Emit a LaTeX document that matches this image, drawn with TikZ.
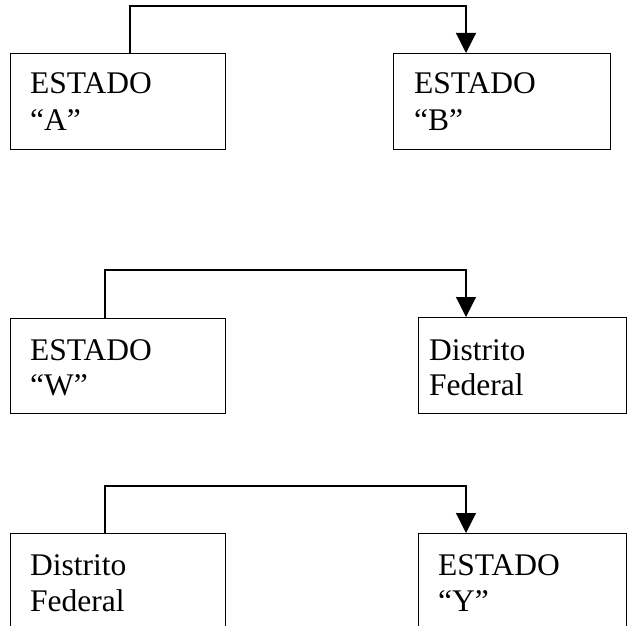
\documentclass[tikz,border=0pt]{standalone}
\usepackage{fontspec}
\setmainfont{Liberation Serif}
\usetikzlibrary{arrows.meta}
\begin{document}
\begin{tikzpicture}[x=1pt,y=-1pt,
  box/.style={draw=black, line width=1.1pt, rectangle, inner sep=0pt, anchor=north west},
  lbl/.style={font=\fontsize{31.5}{37}\selectfont, inner sep=0pt, anchor=base west},
  conn/.style={draw=black, line width=1.1pt, -{Triangle[width=20pt,length=20pt]}}]
\useasboundingbox[fill=white] (0,0) rectangle (627,626);
% Row 1
\node[box, minimum width=215.4pt, minimum height=96pt] (A) at (9.6,53) {};
\node[box, minimum width=217pt, minimum height=96pt] (B) at (393,53) {};
\node[lbl] (tA1) at (30,93) {ESTADO};
\node[lbl] (tA2) at (30,130) {“A”};
\node[lbl] (tB1) at (414,93) {ESTADO};
\node[lbl] (tB2) at (414,130) {“B”};
\coordinate (a1) at (130,6);
\coordinate (b1) at (466,6);
\draw[conn] (A.north -| a1) -- (a1) -- (b1) -- (B.north -| b1);
% Row 2
\node[box, minimum width=215.4pt, minimum height=95pt] (W) at (9.6,318) {};
\node[box, minimum width=208pt, minimum height=96pt] (DF1) at (418,317) {};
\node[lbl] (tW1) at (30,360) {ESTADO};
\node[lbl] (tW2) at (30,395) {“W”};
\node[lbl] (tD1) at (429,360) {Distrito};
\node[lbl] (tD2) at (429,395) {Federal};
\coordinate (a2) at (105,270);
\coordinate (b2) at (466,270);
\draw[conn] (W.north -| a2) -- (a2) -- (b2) -- (DF1.north -| b2);
% Row 3
\node[box, minimum width=215.4pt, minimum height=96pt] (DF2) at (9.6,533) {};
\node[box, minimum width=208pt, minimum height=96pt] (Y) at (418,533) {};
\node[lbl] (tE1) at (30,575) {Distrito};
\node[lbl] (tE2) at (30,611) {Federal};
\node[lbl] (tY1) at (438,575) {ESTADO};
\node[lbl] (tY2) at (438,611) {“Y”};
\coordinate (a3) at (105,486);
\coordinate (b3) at (466,486);
\draw[conn] (DF2.north -| a3) -- (a3) -- (b3) -- (Y.north -| b3);
\end{tikzpicture}
\end{document}
